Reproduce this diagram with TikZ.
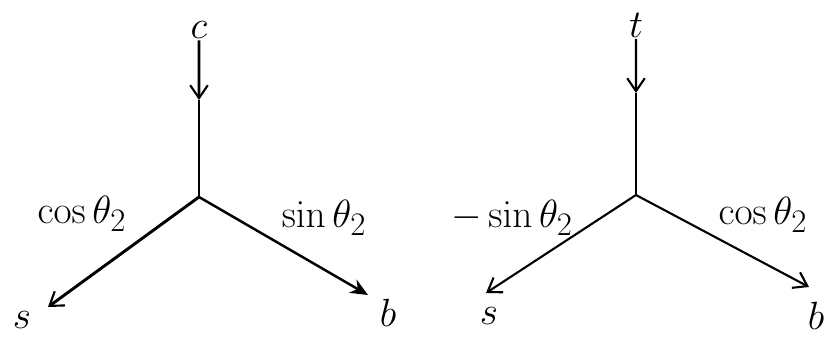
\documentclass[tikz,border=0pt]{standalone}
\usepackage{amsmath,amssymb}
\usetikzlibrary{arrows.meta}

\begin{document}
\begin{tikzpicture}[x=0.03cm,y=-0.03cm]
\tikzstyle{L}=[font=\Huge,scale=1.35,inner sep=1pt]
\tikzstyle{A}=[-{Straight Barb[length=11pt,width=15pt,line width=1.8pt]}]
\tikzstyle{F}=[-{Stealth[length=15pt,width=13pt]}]
\useasboundingbox (0,0) rectangle (828,339);
% left
\node[L](c) at (199,30){$c$};
\coordinate (m1) at (199,100);
\coordinate (j1) at (199,197);
\coordinate (s1t) at (48,307);
\coordinate (b1t) at (368,295);
\node[L](s1) at (22,320){$s$};
\node[L](b1) at (388,313){$b$};
\node[L](l1) at (82,214){$\cos\theta_2$};
\node[L](l2) at (324,218){$\sin\theta_2$};
\draw[A,line width=2.3pt](c)--(m1);
\draw[line width=2.3pt](m1)--(j1);
\draw[A,line width=2.5pt](j1)--(s1t);
\draw[F,line width=2.1pt](j1)--(b1t);
% right
\node[L](t) at (636,25){$t$};
\coordinate (m2) at (636,93);
\coordinate (j2) at (636,195);
\coordinate (s2t) at (486,293);
\coordinate (b2t) at (809,287);
\node[L](s2) at (489,316){$s$};
\node[L](b2) at (816,316){$b$};
\node[L](l3) at (512,218){${-}\sin\theta_2$};
\node[L](l4) at (763,215){$\cos\theta_2$};
\draw[A,line width=2.1pt](t)--(m2);
\draw[line width=2.1pt](m2)--(j2);
\draw[A,line width=1.8pt](j2)--(s2t);
\draw[A,line width=1.8pt](j2)--(b2t);
\end{tikzpicture}
\end{document}
